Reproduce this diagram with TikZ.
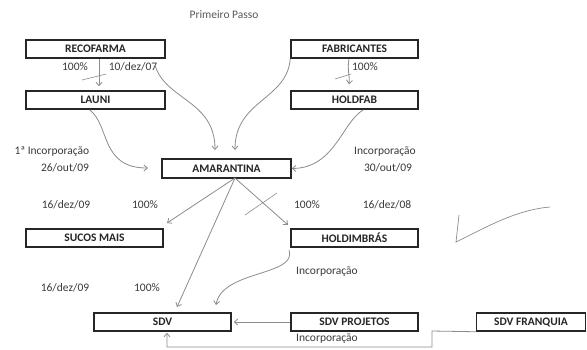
\documentclass[tikz,border=0pt]{standalone}
\usepackage{fontspec}
\setmainfont{Carlito}
\usetikzlibrary{arrows.meta,calc}
\definecolor{linegray}{HTML}{8C8C8C}
\definecolor{txtgray}{HTML}{3A3A3A}
\tikzset{
  entity/.style={draw=black!85, line width=1.5pt, fill=white, minimum height=18pt, inner sep=0pt, font=\fontsize{11.5}{12}\selectfont\bfseries, text=black!85},
  conn/.style={draw=linegray, line width=0.8pt, -{Straight Barb[length=3.5pt,width=6pt]}},
  plain/.style={draw=linegray, line width=0.8pt},
  lbl/.style={font=\fontsize{11.5}{12}\selectfont, text=txtgray, inner sep=0pt}
}
\begin{document}
\begin{tikzpicture}[x=1pt,y=-1pt]
\useasboundingbox[fill=white] (0,0) rectangle (587,349);

% boxes
\node[entity, minimum width=139pt] (reco) at (95.5,49) {RECOFARMA};
\node[entity, minimum width=139pt] (launi) at (95.5,100) {LAUNI};
\node[entity, minimum width=127pt] (fab) at (354.5,49) {FABRICANTES};
\node[entity, minimum width=127pt] (holdfab) at (354.5,100) {HOLDFAB};
\node[entity, minimum width=129pt, minimum height=19pt] (amar) at (226.5,168.5) {AMARANTINA};
\node[entity, minimum width=137pt] (sucos) at (94.5,238) {SUCOS MAIS};
\node[entity, minimum width=127pt] (holdim) at (354.5,238) {HOLDIMBRÁS};
\node[entity, minimum width=137pt] (sdv) at (162.5,322) {SDV};
\node[entity, minimum width=127pt] (sdvp) at (354.5,322) {SDV PROJETOS};
\node[entity, minimum width=109pt] (sdvf) at (531,322) {SDV FRANQUIA};

% texts
\node[lbl, text=black!65] (title) at (224,15) {Primeiro Passo};
\node[lbl] (t1) at (75,67) {100\%};
\node[lbl] (t2) at (133,67) {10/dez/07};
\node[lbl] (t3) at (365,67) {100\%};
\node[lbl] (t4) at (52,152) {1ª Incorporação};
\node[lbl] (t5) at (65,168) {26/out/09};
\node[lbl] (t6) at (385,152) {Incorporação};
\node[lbl] (t7) at (388,168) {30/out/09};
\node[lbl] (t8) at (66,205) {16/dez/09};
\node[lbl] (t9) at (145,205) {100\%};
\node[lbl] (t10) at (307,205) {100\%};
\node[lbl] (t11) at (387,205) {16/dez/08};
\node[lbl] (t12) at (327,272) {Incorporação};
\node[lbl] (t13) at (65,288) {16/dez/09};
\node[lbl] (t14) at (147,288) {100\%};
\node[lbl] (t15) at (327,339) {Incorporação};

% coordinates
\coordinate (recoStart) at (155,65);
\coordinate (amarTopL) at (215,150);
\coordinate (amarTopR) at (235,150);
\coordinate (amarLeftTip) at (148,168);
\coordinate (amarBot) at (235,178);
\coordinate (sucosTip) at (167,223);
\coordinate (holdimTip) at (288,225);
\coordinate (sdvTip1) at (177,307);
\coordinate (sdvTip2) at (216,305);
\coordinate (holdimOut) at (289,250);
\coordinate (turnA) at (432,331);
\coordinate (turnB) at (432,347);
\coordinate (turnC) at (167,347);

% straight arrows
\draw[conn] ([xshift=3.5pt]reco.south) -- ([xshift=3.5pt,yshift=4pt]launi.north);
\draw[conn] ([xshift=-5.5pt]fab.south) .. controls (347,70) and (350,76) .. ([xshift=-5.5pt,yshift=6pt]holdfab.north);

% cross strokes
\draw[plain, line width=0.6pt] (82,80) -- (106,74);
\draw[plain, line width=0.6pt] (335,79) -- (351,74);
\draw[plain, line width=0.6pt] (245,215) -- (277,193);

% curved arrows into AMARANTINA
\draw[conn] (recoStart) .. controls (165,100) and (215,100) .. (amarTopL);
\draw[conn] (fab.south west) .. controls (287,100) and (235,100) .. (amarTopR);
\draw[conn] ([xshift=-6pt]launi.south) .. controls (110,125) and (100,168) .. (amarLeftTip);
\draw[conn] ([xshift=9pt]holdfab.south) .. controls (342,122) and (335,168) .. (amar.east);

% from AMARANTINA
\draw[conn] (amarBot) -- (sucosTip);
\draw[conn] (amarBot) -- (holdimTip);
\draw[conn] (amarBot) -- (sdvTip1);

% into SDV
\draw[conn] (holdimOut) .. controls (298,276) and (222,270) .. (sdvTip2);
\draw[conn] (sdvp.west) -- ([xshift=2pt]sdv.east);
\draw[conn] (sdvf.south west) -- (turnA) -- (turnB) -- (turnC) -- ([xshift=4.5pt,yshift=-1pt]sdv.south);

% hand-drawn check
\draw[plain, line width=0.7pt] (459,215) -- (456,242) .. controls (485,228) and (515,210) .. (550,207);
\end{tikzpicture}
\end{document}
